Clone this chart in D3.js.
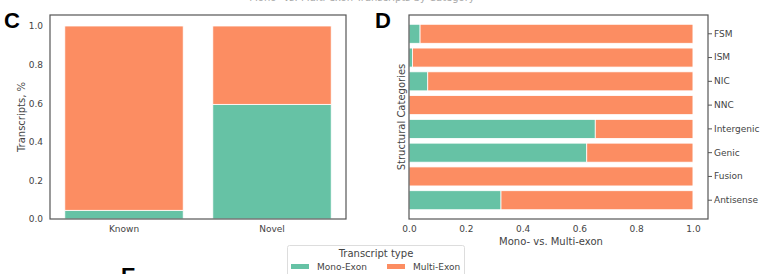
<!DOCTYPE html>
<html>
<head>
<meta charset="utf-8">
<script src="https://cdn.jsdelivr.net/npm/d3@7"></script>
<style>
	body { margin: 0; background: #fff; }
	text { font-family: "DejaVu Sans", sans-serif; }
</style>
</head>
<body>
<div id="plot"></div>
<script>
// panel C: known vs novel
var novelty = ["Known", "Novel"];
var noveltyMono = [0.045, 0.594];
var noveltyMulti = [0.955, 0.406];

// panel D: structural categories
var categories = ["FSM", "ISM", "NIC", "NNC", "Intergenic", "Genic", "Fusion", "Antisense"];
var catMono = [0.039, 0.012, 0.066, 0.0, 0.656, 0.626, 0.0, 0.324];
var catMulti = [0.961, 0.988, 0.934, 1.0, 0.344, 0.374, 1.0, 0.676];

var yTicks = [0.0, 0.2, 0.4, 0.6, 0.8, 1.0];
var xTicks = [0.0, 0.2, 0.4, 0.6, 0.8, 1.0];
var seriesNames = ["Mono-Exon", "Multi-Exon"];
var colors = ["#66c2a5", "#fc8d62"];

var W = 761, H = 274;
var svg = d3.select("#plot").append("svg")
	.attr("width", W)
	.attr("height", H);

var axisCol = "#555";
var textCol = "#444";

// faint title, clipped by the top edge as in the source figure
svg.append("text")
	.attr("x", 362).attr("y", 1)
	.attr("text-anchor", "middle")
	.style("font-size", "10px")
	.style("fill", "#aaa")
	.text("Mono- vs. Multi-exon Transcripts by Category");

// ---------- panel C ----------
var c = {left: 50, right: 346, top: 15, bottom: 219};

var xC = d3.scaleBand().domain(novelty).range([c.left, c.right]).paddingInner(0.2).paddingOuter(0.1);
var yC = d3.scaleLinear().domain([0, 1.057]).range([c.bottom, c.top]);

var gC = svg.append("g");
var stackC = novelty.map(function(d, i) {
	return [{k: d, y0: 0, y1: noveltyMono[i], s: 0}, {k: d, y0: noveltyMono[i], y1: noveltyMono[i] + noveltyMulti[i], s: 1}];
});
gC.selectAll(".barC")
	.data(d3.merge(stackC))
	.enter().append("rect")
	.attr("class", "barC")
	.attr("x", function(d) { return xC(d.k); })
	.attr("width", xC.bandwidth())
	.attr("y", function(d) { return yC(d.y1); })
	.attr("height", function(d) { return yC(d.y0) - yC(d.y1); })
	.style("fill", function(d) { return colors[d.s]; })
	.style("stroke", "#fff")
	.style("stroke-width", 0.8);

gC.append("g")
	.attr("transform", "translate(" + c.left + ",0)")
	.call(d3.axisLeft(yC).tickValues(yTicks).tickFormat(d3.format(".1f")).tickSize(0).tickPadding(7));
gC.append("g")
	.attr("transform", "translate(0," + c.bottom + ")")
	.call(d3.axisBottom(xC).tickSize(0).tickPadding(7));

gC.append("rect")
	.attr("x", c.left).attr("y", c.top)
	.attr("width", c.right - c.left).attr("height", c.bottom - c.top)
	.style("fill", "none").style("stroke", axisCol).style("stroke-width", 1.2);

gC.append("text")
	.attr("transform", "translate(25," + ((c.top + c.bottom) / 2) + ") rotate(-90)")
	.attr("text-anchor", "middle")
	.style("font-size", "10px").style("fill", textCol)
	.text("Transcripts, %");

// ---------- panel D ----------
var dP = {left: 409, right: 708, top: 15, bottom: 219};

var xD = d3.scaleLinear().domain([0, 1.053]).range([dP.left, dP.right]);
var yD = d3.scaleBand().domain(categories).range([dP.top, dP.bottom]).paddingInner(0.2).paddingOuter(0.39);

var gD = svg.append("g");
var stackD = categories.map(function(d, i) {
	return [{k: d, x0: 0, x1: catMono[i], s: 0}, {k: d, x0: catMono[i], x1: catMono[i] + catMulti[i], s: 1}];
});
gD.selectAll(".barD")
	.data(d3.merge(stackD).filter(function(d) { return d.x1 > d.x0; }))
	.enter().append("rect")
	.attr("class", "barD")
	.attr("y", function(d) { return yD(d.k); })
	.attr("height", yD.bandwidth())
	.attr("x", function(d) { return xD(d.x0); })
	.attr("width", function(d) { return xD(d.x1) - xD(d.x0); })
	.style("fill", function(d) { return colors[d.s]; })
	.style("stroke", "#fff")
	.style("stroke-width", 0.8);

gD.append("g")
	.attr("transform", "translate(0," + dP.bottom + ")")
	.call(d3.axisBottom(xD).tickValues(xTicks).tickFormat(d3.format(".1f")).tickSize(0).tickPadding(7));
gD.append("g")
	.attr("transform", "translate(" + dP.right + ",0)")
	.call(d3.axisRight(yD).tickSize(4).tickPadding(2));

gD.append("rect")
	.attr("x", dP.left).attr("y", dP.top)
	.attr("width", dP.right - dP.left).attr("height", dP.bottom - dP.top)
	.style("fill", "none").style("stroke", axisCol).style("stroke-width", 1.2);

gD.append("text")
	.attr("x", xD(0.5)).attr("y", 245)
	.attr("text-anchor", "middle")
	.style("font-size", "10px").style("fill", textCol)
	.text("Mono- vs. Multi-exon");

gD.append("text")
	.attr("transform", "translate(405," + ((dP.top + dP.bottom) / 2) + ") rotate(-90)")
	.attr("text-anchor", "middle")
	.style("font-size", "10px").style("fill", textCol)
	.text("Structural Categories");

// axis styling
svg.selectAll(".domain").remove();
svg.selectAll(".tick text").style("font-size", "9px").style("fill", textCol).style("font-family", "DejaVu Sans, sans-serif");
svg.selectAll(".tick line").style("stroke", axisCol);

// panel letters
[["C", 4, 28], ["D", 375, 28], ["E", 121, 283]].forEach(function(p) {
	svg.append("text")
		.attr("x", p[1]).attr("y", p[2])
		.style("font-family", "Liberation Sans, Arial, sans-serif")
		.style("font-weight", "bold")
		.style("font-size", "22px")
		.style("fill", "#000")
		.text(p[0]);
});

// legend
var lg = svg.append("g");
lg.append("rect")
	.attr("x", 287.5).attr("y", 245.5)
	.attr("width", 177).attr("height", 40)
	.attr("rx", 2)
	.style("fill", "#fff").style("stroke", "#ddd");
lg.append("text")
	.attr("x", 376).attr("y", 257)
	.attr("text-anchor", "middle")
	.style("font-size", "10px").style("fill", textCol)
	.text("Transcript type");
var legX = [291, 387];
seriesNames.forEach(function(n, i) {
	lg.append("rect")
		.attr("x", legX[i]).attr("y", 264)
		.attr("width", 18).attr("height", 5)
		.style("fill", colors[i]);
	lg.append("text")
		.attr("x", legX[i] + 26).attr("y", 270)
		.style("font-size", "9px").style("fill", textCol)
		.text(n);
});
</script>
</body>
</html>
